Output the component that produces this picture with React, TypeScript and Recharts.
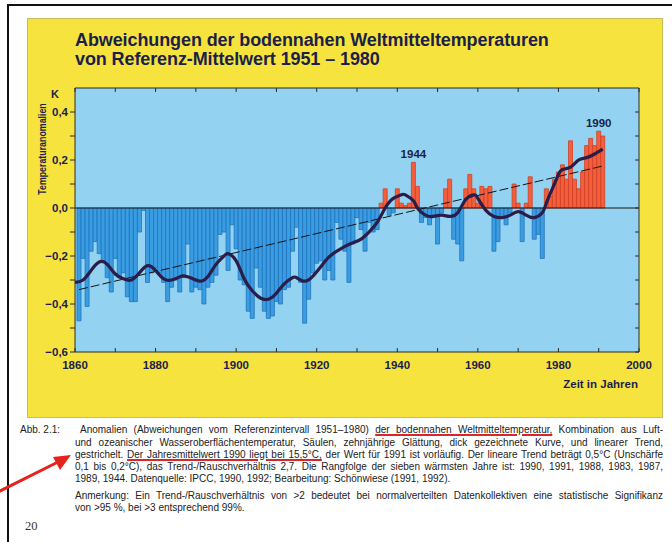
import React from 'react';
import {
  ComposedChart,
  Bar,
  Line,
  XAxis,
  YAxis,
  CartesianGrid,
  ReferenceLine,
  ReferenceDot,
  Cell,
} from 'recharts';

// annual anomalies (K) vs 1951-1980, starting with 1861
const firstYear = 1861;
const anomalies = [
  // 1861-1870
  -0.47, -0.21, -0.41, -0.18, -0.14, -0.19, -0.22, -0.29, -0.35, -0.21,
  // 1871-1880
  -0.29, -0.27, -0.37, -0.39, -0.39, -0.1, -0.01, -0.31, -0.27, -0.25,
  // 1881-1890
  -0.27, -0.31, -0.39, -0.33, -0.3, -0.35, -0.29, -0.15, -0.35, -0.33,
  // 1891-1900
  -0.34, -0.4, -0.33, -0.31, -0.28, -0.11, -0.1, -0.26, -0.07, -0.17,
  // 1901-1910
  -0.3, -0.32, -0.43, -0.46, -0.25, -0.33, -0.43, -0.46, -0.45, -0.39,
  // 1911-1920
  -0.4, -0.34, -0.33, -0.18, -0.08, -0.31, -0.48, -0.38, -0.27, -0.23,
  // 1921-1930
  -0.22, -0.3, -0.26, -0.3, -0.06, -0.13, -0.18, -0.31, -0.15, -0.04,
  // 1931-1940
  -0.09, -0.18, -0.06, -0.1, -0.09, 0.02, 0.08, -0.03, -0.02, 0.08,
  // 1941-1950
  0.02, 0.01, 0.02, 0.19, 0.09, -0.06, -0.04, -0.07, -0.03, -0.15,
  // 1951-1960
  -0.02, 0.08, 0.12, -0.13, -0.15, -0.22, 0.08, 0.14, 0.08, 0.02,
  // 1961-1970
  0.09, 0.08, 0.09, -0.18, -0.14, -0.03, -0.07, -0.02, 0.1, 0.02,
  // 1971-1980
  -0.14, 0.02, 0.13, -0.13, -0.11, -0.21, 0.08, 0.05, 0.12, 0.15,
  // 1981-1991
  0.18, 0.12, 0.28, 0.12, 0.08, 0.15, 0.26, 0.29, 0.26, 0.32, 0.3,
];

// ten-year smoothing (thick curve)
const smoothYears = [
  1860, 1862, 1864, 1866, 1868, 1870, 1872, 1874, 1876, 1878, 1880, 1882, 1884, 1886,
  1887, 1889, 1891, 1893, 1895, 1897, 1898, 1900, 1902, 1904, 1906, 1908, 1910, 1912,
  1914, 1915, 1917, 1919, 1921, 1923, 1925, 1927, 1929, 1931, 1933, 1935, 1937, 1939,
  1941, 1942, 1944, 1945, 1947, 1949, 1951, 1953, 1955, 1957, 1959, 1960, 1962, 1964,
  1966, 1968, 1970, 1972, 1974, 1976, 1977, 1979, 1980, 1981, 1983, 1985, 1987, 1989, 1991,
];
const smoothValues = [
  -0.31, -0.3, -0.26, -0.225, -0.235, -0.275, -0.295, -0.3, -0.27, -0.24, -0.26, -0.295, -0.3, -0.287,
  -0.283, -0.293, -0.305, -0.285, -0.235, -0.2, -0.19, -0.22, -0.295, -0.345, -0.375, -0.38, -0.355, -0.315,
  -0.29, -0.29, -0.305, -0.285, -0.245, -0.205, -0.18, -0.16, -0.145, -0.13, -0.1, -0.06, 0.0, 0.04,
  0.055, 0.055, 0.03, 0.0, -0.03, -0.035, -0.03, -0.035, -0.02, 0.035, 0.055, 0.04, -0.01, -0.035,
  -0.04, -0.03, -0.015, -0.03, -0.04, -0.02, 0.02, 0.1, 0.14, 0.16, 0.17, 0.2, 0.21, 0.225, 0.245,
];

// linear trend (dashed)
const trendYears = [1861, 1991];
const trendValues = [-0.34, 0.175];

const markedYears = [1944, 1990];

const xLabelTicks = [1860, 1880, 1900, 1920, 1940, 1960, 1980, 2000];
const xMinorTicks = [1860, 1870, 1880, 1890, 1900, 1910, 1920, 1930, 1940, 1950, 1960, 1970, 1980, 1990, 2000];
const yTicks = [-0.6, -0.5, -0.4, -0.3, -0.2, -0.1, 0, 0.1, 0.2, 0.3, 0.4];

const rows = Array.from({ length: firstYear + anomalies.length - 1860 }, (_, i) => {
  const year = 1860 + i;
  const ai = year - firstYear;
  const si = smoothYears.indexOf(year);
  const ti = trendYears.indexOf(year);
  return {
    year,
    anomaly: ai >= 0 ? anomalies[ai] : null,
    smooth: si >= 0 ? smoothValues[si] : null,
    trend: ti >= 0 ? trendValues[ti] : null,
  };
});

const NAVY = '#1c1f48';
const BLUE = '#3a9de2';
const BLUE_EDGE = '#1f73be';
const RED = '#f35e3f';
const RED_EDGE = '#d3401f';
const SKY = '#93d3f1';
const YELLOW = '#f7e33e';
const SANS = '"Liberation Sans", Arial, sans-serif';

const fmtY = (v: number) => {
  const t = Math.round(v * 10);
  if (t % 2 !== 0) return '';
  const s = Math.abs(v).toFixed(1).replace('.', ',');
  return v < 0 ? '\u2212' + s : s;
};
const blank = () => '';

const tickStyle = { fill: NAVY, fontSize: 11.5, fontWeight: 700, fontFamily: SANS };

const Chart = () => (
  <ComposedChart
    width={672}
    height={420}
    data={rows}
    margin={{ top: 88, right: 33, bottom: 38, left: 35 }}
    style={{ position: 'absolute', left: 0, top: 0 }}
  >
    <CartesianGrid xAxisId="main" yAxisId="left" fill={SKY} horizontal={false} vertical={false} />
    <XAxis
      xAxisId="main"
      dataKey="year"
      type="number"
      domain={[1860, 2000]}
      ticks={xLabelTicks}
      interval={0}
      tickLine={false}
      tickSize={6}
      tickMargin={3}
      height={30}
      axisLine={{ stroke: '#2a2a2a' }}
      tick={tickStyle}
      allowDataOverflow
    />
    <XAxis
      xAxisId="bottomTicks"
      dataKey="year"
      type="number"
      domain={[1860, 2000]}
      ticks={xMinorTicks}
      interval={0}
      mirror
      tickSize={4}
      tickFormatter={blank}
      axisLine={false}
      tickLine={{ stroke: '#2a2a2a' }}
      allowDataOverflow
    />
    <XAxis
      xAxisId="top"
      orientation="top"
      dataKey="year"
      type="number"
      domain={[1860, 2000]}
      ticks={xMinorTicks}
      interval={0}
      mirror
      tickSize={4}
      tickFormatter={blank}
      axisLine={{ stroke: '#2a2a2a' }}
      tickLine={{ stroke: '#2a2a2a' }}
      allowDataOverflow
    />
    <YAxis
      yAxisId="left"
      type="number"
      domain={[-0.6, 0.5]}
      ticks={yTicks}
      interval={0}
      width={40}
      tickSize={5}
      tickMargin={2}
      tickFormatter={fmtY}
      axisLine={{ stroke: '#2a2a2a' }}
      tickLine={{ stroke: '#2a2a2a' }}
      tick={tickStyle}
      allowDataOverflow
    />
    <YAxis
      yAxisId="right"
      orientation="right"
      type="number"
      domain={[-0.6, 0.5]}
      ticks={yTicks}
      interval={0}
      mirror
      tickSize={4}
      tickFormatter={blank}
      axisLine={{ stroke: '#2a2a2a' }}
      tickLine={{ stroke: '#2a2a2a' }}
      allowDataOverflow
    />
    <Bar xAxisId="main" yAxisId="left" dataKey="anomaly" barSize={4} isAnimationActive={false}>
      {rows.map((r) => (
        <Cell
          key={r.year}
          fill={(r.anomaly ?? 0) >= 0 ? RED : BLUE}
          stroke={(r.anomaly ?? 0) >= 0 ? RED_EDGE : BLUE_EDGE}
          strokeWidth={0.8}
        />
      ))}
    </Bar>
    <ReferenceLine xAxisId="main" yAxisId="left" y={0} stroke="#1a1a1a" strokeWidth={1.2} />
    <Line
      xAxisId="main"
      yAxisId="left"
      dataKey="trend"
      type="linear"
      stroke="#151515"
      strokeWidth={1}
      strokeDasharray="9 3"
      dot={false}
      connectNulls
      isAnimationActive={false}
    />
    <Line
      xAxisId="main"
      yAxisId="left"
      dataKey="smooth"
      type="natural"
      stroke="#2b1d48"
      strokeWidth={3.2}
      dot={false}
      connectNulls
      isAnimationActive={false}
    />
    {markedYears.map((y) => (
      <ReferenceDot
        key={y}
        xAxisId="main"
        yAxisId="left"
        x={y}
        y={anomalies[y - firstYear]}
        r={0}
        ifOverflow="visible"
        label={{ value: String(y), position: 'top', offset: 4, fill: NAVY, fontSize: 11.5, fontWeight: 700, fontFamily: SANS }}
      />
    ))}
  </ComposedChart>
);

const line: React.CSSProperties = {
  position: 'absolute',
  left: 75,
  width: 588,
  fontFamily: SANS,
  fontSize: 10,
  lineHeight: '11px',
  color: '#222',
  whiteSpace: 'nowrap',
  textAlign: 'justify',
  textAlignLast: 'justify',
};
const plain: React.CSSProperties = { textAlign: 'left', textAlignLast: 'left' };
const redLine: React.CSSProperties = {
  textDecoration: 'underline',
  textDecorationColor: '#d8262b',
  textDecorationThickness: '1.5px',
  textUnderlineOffset: '1px',
};

export default function App() {
  return (
    <div style={{ position: 'absolute', left: 0, top: 0, width: 672, height: 542, background: '#fff', overflow: 'hidden' }}>
      <div style={{ position: 'absolute', left: 7, top: 4, width: 665, height: 2, background: '#111' }} />
      <div style={{ position: 'absolute', left: 7, top: 4, width: 2, height: 538, background: '#111' }} />
      <div
        style={{
          position: 'absolute',
          left: 27,
          top: 18,
          width: 636,
          height: 400,
          background: YELLOW,
          boxSizing: 'border-box',
          border: '1px solid #c9bd5a',
        }}
      />
      <div style={{ position: 'absolute', left: 75, top: 31, fontFamily: SANS, fontWeight: 700, fontSize: 18, lineHeight: '19px', color: NAVY, letterSpacing: -0.1 }}>
        Abweichungen der bodennahen Weltmitteltemperaturen
        <br />
        von Referenz-Mittelwert 1951 – 1980
      </div>
      <Chart />
      <div style={{ position: 'absolute', left: 51, top: 88, fontFamily: SANS, fontWeight: 700, fontSize: 11, color: NAVY }}>K</div>
      <div
        style={{
          position: 'absolute',
          left: 42,
          top: 149,
          transform: 'translate(-50%, -50%) rotate(-90deg) scaleX(0.84)',
          fontFamily: SANS,
          fontWeight: 700,
          fontSize: 10.5,
          color: NAVY,
          whiteSpace: 'nowrap',
        }}
      >
        Temperaturanomalien
      </div>
      <div style={{ position: 'absolute', right: 672 - 638, top: 378, fontFamily: SANS, fontWeight: 700, fontSize: 11.5, color: NAVY }}>
        Zeit in Jahren
      </div>

      <div style={{ ...line, ...plain, left: 20, width: 60, top: 424 }}>Abb. 2.1:</div>
      <div style={{ ...line, left: 80, width: 583, top: 424 }}>
        Anomalien (Abweichungen vom Referenzintervall 1951–1980) <span style={redLine}>der bodennahen Weltmitteltemperatur,</span> Kombination aus Luft-
      </div>
      <div style={{ ...line, top: 437 }}>
        und ozeanischer Wasseroberflächentemperatur, Säulen, zehnjährige Glättung, dick gezeichnete Kurve, und linearer Trend,
      </div>
      <div style={{ ...line, top: 449 }}>
        gestrichelt. <span style={redLine}>Der Jahresmittelwert 1990 liegt bei 15,5°C,</span> der Wert für 1991 ist vorläufig. Der lineare Trend beträgt 0,5°C (Unschärfe
      </div>
      <div style={{ ...line, top: 461 }}>
        0,1 bis 0,2°C), das Trend-/Rauschverhältnis 2,7. Die Rangfolge der sieben wärmsten Jahre ist: 1990, 1991, 1988, 1983, 1987,
      </div>
      <div style={{ ...line, ...plain, top: 473 }}>
        1989, 1944. Datenquelle: IPCC, 1990, 1992; Bearbeitung: Schönwiese (1991, 1992).
      </div>
      <div style={{ ...line, top: 490 }}>
        Anmerkung: Ein Trend-/Rauschverhältnis von &gt;2 bedeutet bei normalverteilten Datenkollektiven eine statistische Signifikanz
      </div>
      <div style={{ ...line, ...plain, top: 502 }}>von &gt;95 %, bei &gt;3 entsprechend 99%.</div>
      <div style={{ position: 'absolute', left: 25, top: 519, fontFamily: '"Liberation Serif", "DejaVu Serif", serif', fontSize: 12.5, color: '#333' }}>20</div>

      <svg width={672} height={542} style={{ position: 'absolute', left: 0, top: 0, pointerEvents: 'none' }}>
        <line x1={-2} y1={492} x2={58} y2={462} stroke="#e5231c" strokeWidth={3} />
        <polygon points="71,455 53,457 60,470" fill="#e5231c" />
      </svg>
    </div>
  );
}
